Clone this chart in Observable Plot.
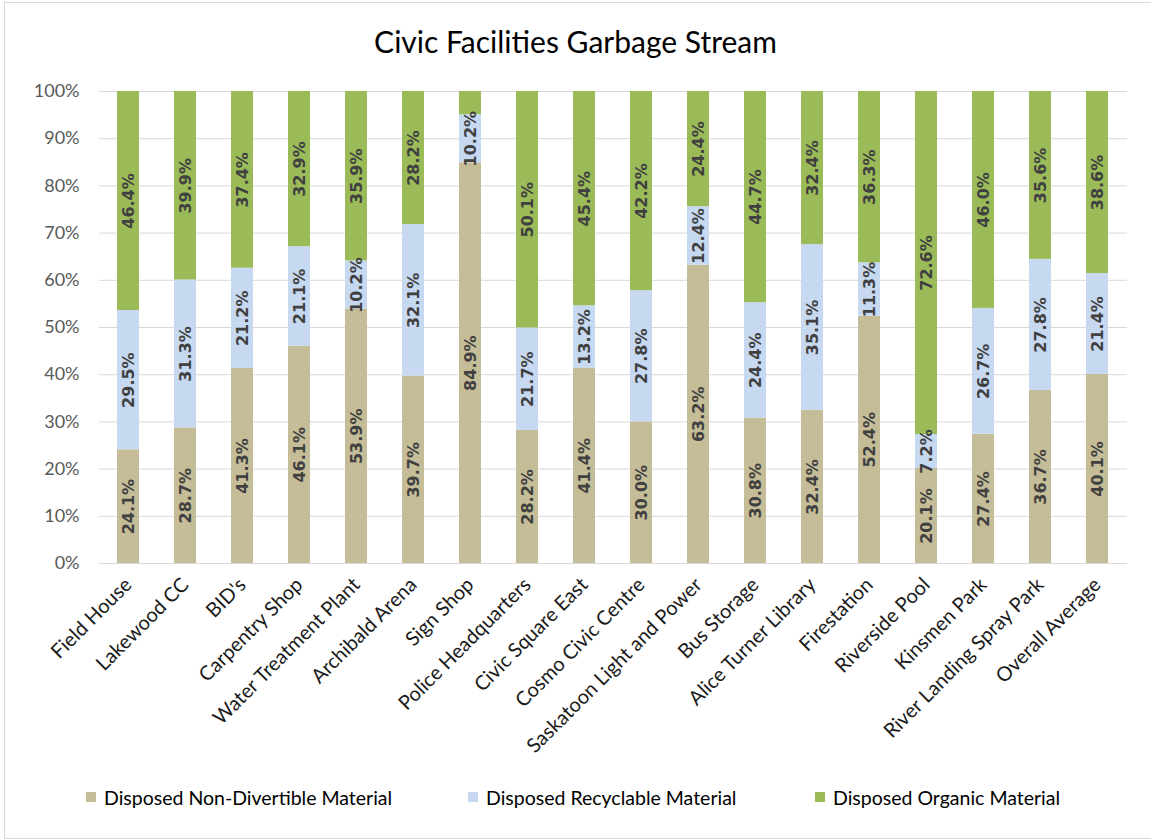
<!DOCTYPE html>
<html>
<head>
<meta charset="utf-8">
<script src="https://cdn.jsdelivr.net/npm/d3@7"></script>
<script src="https://cdn.jsdelivr.net/npm/@observablehq/plot@0.6"></script>
<style>
  html, body { margin: 0; padding: 0; background: #fff; }
  #wrap { position: relative; width: 1151px; height: 840px; overflow: hidden; font-family: Lato, sans-serif; }
  #frame { position: absolute; left: 4px; top: 2px; width: 1170px; height: 835px; border: 1px solid #d9d9d9; pointer-events: none; }
  #title { height: 75px; line-height: 82px; text-align: center; font-size: 30px; color: #000; }
  #chart svg { display: block; }
  #legend { position: absolute; top: 786px; left: 0; width: 1151px; height: 22px; font-size: 19.5px; color: #000; }
  .item { position: absolute; top: 0; display: flex; align-items: center; height: 22px; }
  .sw { width: 10px; height: 10px; margin-right: 8px; }
</style>
</head>
<body>
<div id="wrap">
  <div id="title">Civic Facilities Garbage Stream</div>
  <div id="chart"></div>
  <div id="legend"></div>
  <div id="frame"></div>
</div>
<script>
const categories = ["Field House","Lakewood CC","BID's","Carpentry Shop","Water Treatment Plant","Archibald Arena","Sign Shop","Police Headquarters","Civic Square East","Cosmo Civic Centre","Saskatoon Light and Power","Bus Storage","Alice Turner Library","Firestation","Riverside Pool","Kinsmen Park","River Landing Spray Park","Overall Average"];
const nonDivertible = [24.1,28.7,41.3,46.1,53.9,39.7,84.9,28.2,41.4,30.0,63.2,30.8,32.4,52.4,20.1,27.4,36.7,40.1];
const recyclable    = [29.5,31.3,21.2,21.1,10.2,32.1,10.2,21.7,13.2,27.8,12.4,24.4,35.1,11.3,7.2,26.7,27.8,21.4];
const organic       = [46.4,39.9,37.4,32.9,35.9,28.2,4.9,50.1,45.4,42.2,24.4,44.7,32.4,36.3,72.6,46.0,35.6,38.6];
const seriesNames = ["Disposed Non-Divertible Material","Disposed Recyclable Material","Disposed Organic Material"];
const seriesColors = ["#C4BD97","#C6D9F1","#9BBB59"];
const yTicks = [0,0.1,0.2,0.3,0.4,0.5,0.6,0.7,0.8,0.9,1.0];
const labelMin = 5; // labels below this value were not shown

// build stacked rows (normalized to 100%)
const seriesValues = [nonDivertible, recyclable, organic];
const rows = [];
categories.forEach((cat, i) => {
  const total = seriesValues.reduce((s, arr) => s + arr[i], 0);
  let acc = 0;
  seriesValues.forEach((arr, s) => {
    const v = arr[i];
    const y1 = acc / total;
    acc += v;
    const y2 = acc / total;
    rows.push({cat, series: seriesNames[s], value: v, y1, y2, mid: (y1 + y2) / 2});
  });
});

const plot = Plot.plot({
  width: 1151,
  height: 695,
  marginLeft: 99,
  marginRight: 24,
  marginTop: 16,
  marginBottom: 207,
  style: {fontFamily: "Lato, sans-serif", fontSize: "18px", background: "transparent"},
  x: {domain: categories, paddingInner: 0.606, paddingOuter: 0.303, label: null},
  y: {domain: [0, 1], label: null},
  color: {domain: seriesNames, range: seriesColors},
  marks: [
    Plot.gridY(yTicks, {stroke: "#d9d9d9", strokeOpacity: 1, strokeWidth: 1}),
    Plot.barY(rows, {x: "cat", y1: "y1", y2: "y2", fill: "series"}),
    Plot.text(rows.filter(d => d.value >= labelMin), {
      x: "cat", y: "mid", text: d => d.value.toFixed(1) + "%",
      rotate: -90, fill: "#404040", fontWeight: "bold", fontSize: 16,
      fontFamily: "'DejaVu Sans', sans-serif"
    }),
    Plot.axisY(yTicks, {tickFormat: d3.format(".0%"), tickSize: 0, tickPadding: 20, fill: "#595959", fontSize: 18}),
    Plot.axisX({tickRotate: -45, tickSize: 0, tickPadding: 18, fill: "#1a1a1a", fontSize: 20})
  ]
});
document.getElementById("chart").appendChild(plot);

const legend = document.getElementById("legend");
const legendX = [86, 468, 815];
seriesNames.forEach((name, i) => {
  const it = document.createElement("div");
  it.className = "item";
  it.style.left = legendX[i] + "px";
  it.innerHTML = `<div class="sw" style="background:${seriesColors[i]}"></div><span>${name}</span>`;
  legend.appendChild(it);
});
</script>
</body>
</html>
